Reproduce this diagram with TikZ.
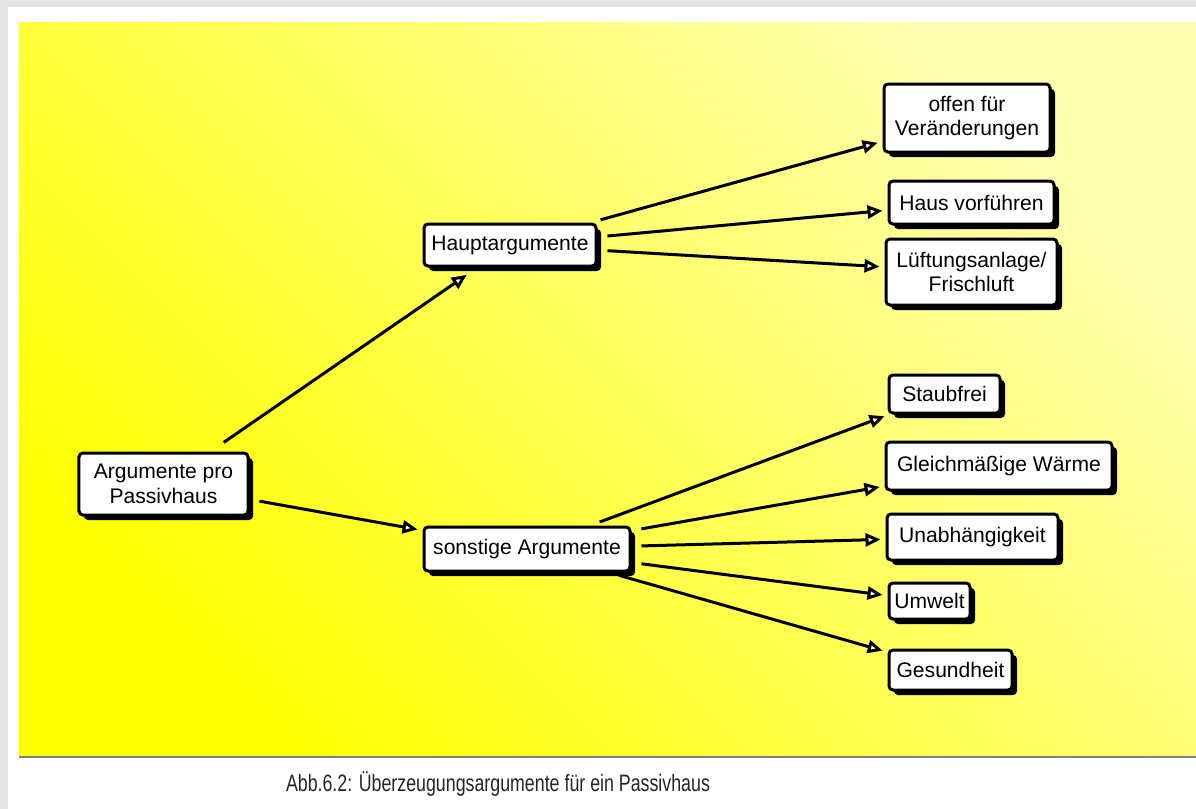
\documentclass[tikz,border=0pt]{standalone}
\usepackage{fontspec}
\setmainfont{Liberation Sans}
\newfontfamily\unterschrift[FakeStretch=0.75]{Liberation Sans}
\usepackage{tikz}
\usetikzlibrary{arrows.meta}
\usetikzlibrary{shadows}
\definecolor{hellgelb}{RGB}{255,255,176}
\definecolor{sattgelb}{RGB}{255,255,0}
\definecolor{randgrau}{RGB}{227,227,227}
\tikzset{
	kasten/.style={draw=black, line width=0.6mm, fill=white, rounded corners=0.8mm,
		align=center, inner sep=1mm, font=\fontsize{12}{14}\selectfont,
		drop shadow={shadow xshift=1mm, shadow yshift=-1mm, fill=black, opacity=1}},
	pfeil/.style={line width=0.6mm, -{Triangle[length=3mm,width=2.6mm,fill=white]},
		shorten <=2mm, shorten >=1mm}
}

\begin{document}
\begin{tikzpicture}[x=0.2mm,y=-0.2mm]
			\useasboundingbox (0,0) rectangle (1196,809);
			\fill[randgrau] (0,0) rectangle (1196,809);
			\fill[white] (8,7) rectangle (1196,809);
			\shade[bottom color=sattgelb, top color=hellgelb, shading angle=-45] (19,22) rectangle (1196,755);
			\draw[gray, line width=0.5mm] (19,757) -- (1196,757);
			\node[kasten, minimum width=33.8mm, minimum height=12.4mm] (wurzel) at (163.5,484) {Argumente pro\\Passivhaus};
			\node[kasten, minimum width=34.4mm, minimum height=8.4mm] (haupt) at (510,245) {Hauptargumente};
			\node[kasten, minimum width=41.2mm, minimum height=8.8mm] (sonstige) at (527,549) {sonstige Argumente};
			\node[kasten, minimum width=33.2mm, minimum height=13.6mm] (offen) at (967,118) {offen für\\Veränderungen};
			\node[kasten, minimum width=33mm, minimum height=8.6mm] (haus) at (971.5,202.5) {Haus vorführen};
			\node[kasten, minimum width=34.2mm, minimum height=13.2mm] (lueftung) at (971.5,272) {Lüftungsanlage/\\Frischluft};
			\node[kasten, minimum width=22.2mm, minimum height=7.6mm] (staub) at (944.5,394) {Staubfrei};
			\node[kasten, minimum width=45.2mm, minimum height=9.6mm] (waerme) at (999,466) {Gleichmäßige Wärme};
			\node[kasten, minimum width=34.2mm, minimum height=9.2mm] (unabh) at (972.5,537) {Unabhängigkeit};
			\node[kasten, minimum width=16.2mm, minimum height=7.2mm] (umwelt) at (929.5,601) {Umwelt};
			\node[kasten, minimum width=24.6mm, minimum height=8mm] (gesund) at (950.5,670) {Gesundheit};
			\draw[pfeil, shorten <=3.2mm, shorten >=2.6mm] (wurzel) -- (haupt);
			\draw[pfeil] (wurzel) -- (sonstige);
			\draw[pfeil] (haupt) -- (offen);
			\draw[pfeil] (haupt) -- (haus);
			\draw[pfeil] (haupt) -- (lueftung);
			\draw[pfeil] (sonstige) -- (staub);
			\draw[pfeil] (sonstige) -- (waerme);
			\draw[pfeil] (sonstige) -- (unabh);
			\draw[pfeil] (sonstige) -- (umwelt);
			\draw[pfeil] (sonstige) -- (gesund);
			\node[font=\unterschrift\fontsize{13.5}{15}\selectfont, text=black!85] (titel) at (498,784) {Abb.6.2: Überzeugungsargumente für ein Passivhaus};
		\end{tikzpicture}
\end{document}
